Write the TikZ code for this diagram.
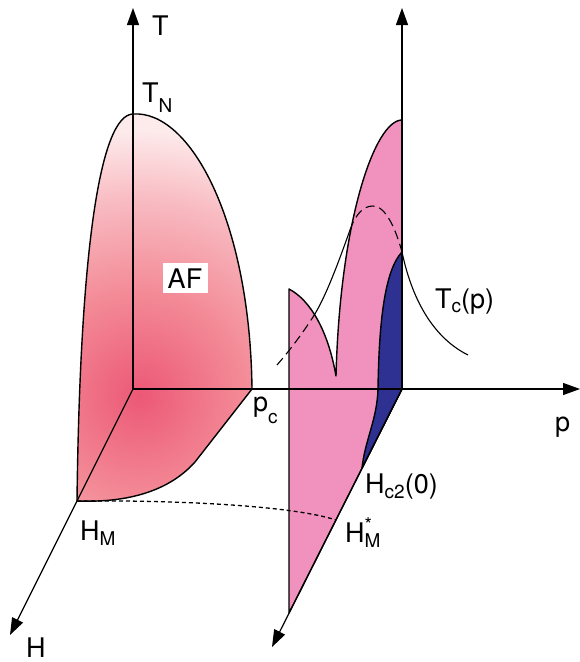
\documentclass[tikz,border=0pt]{standalone}
\usepackage{fontspec}
\setmainfont{TeX Gyre Heros}
\usetikzlibrary{arrows.meta}
\definecolor{afdeep}{RGB}{236,88,118}
\definecolor{afmid}{RGB}{243,138,150}
\definecolor{afsoft}{RGB}{248,185,192}
\definecolor{afpale}{RGB}{253,234,235}
\definecolor{scpink}{RGB}{240,146,189}
\definecolor{scblue}{RGB}{46,49,146}
\pgfdeclareradialshading{afglow}{\pgfpoint{0bp}{0bp}}{color(0bp)=(afdeep); color(8.5bp)=(afmid); color(16bp)=(afsoft); color(22bp)=(afpale); color(50bp)=(afpale)}
\newcommand{\labfont}{\fontsize{27}{30}\selectfont}
\newcommand{\lo}[2][-5pt]{\raisebox{#1}{\fontsize{19}{19}\selectfont #2}}

\begin{document}
\begin{tikzpicture}[
  x=1pt, y=-1pt,
  axis/.style={line width=1.2pt, -{Triangle[length=17pt, width=12pt]}},
  rim/.style={line width=1.4pt, line join=round},
  tcline/.style={line width=1.1pt},
  tchidden/.style={tcline, dash pattern=on 9pt off 5pt},
  hmline/.style={line width=1.3pt, dash pattern=on 4pt off 3pt},
  lab/.style={inner sep=0pt, anchor=base west, font=\labfont}
]
\useasboundingbox (0,0) rectangle (580,662);
% --- axes points ---
\coordinate (O) at (133,389);
\coordinate (Ttip) at (133,8);
\coordinate (Htip) at (10,635);
\coordinate (ptip) at (580,389);
\coordinate (O2) at (402,389);
\coordinate (T2tip) at (402,8);
\coordinate (H2tip) at (272,647);
% --- AF dome ---
\coordinate (TN) at (133,114);
\coordinate (HM) at (77,501);
\coordinate (pc) at (252,389);
\begin{scope}
  \clip (TN) .. controls (100,115) and (80,250) .. (HM)
        .. controls (130,503) and (170,490) .. (195,462) -- (pc)
        .. controls (250,220) and (190,110) .. (TN) -- cycle;
  \shade[shading=afglow] (140,395) circle[radius=300pt];
\end{scope}
\draw[rim] (TN) .. controls (100,115) and (80,250) .. (HM)
      .. controls (130,503) and (170,490) .. (195,462) -- (pc)
      .. controls (250,220) and (190,110) .. (TN) -- cycle;
\node[fill=white, inner sep=0pt, minimum width=45pt, minimum height=30pt,
      text height=20pt, text depth=0pt, font=\labfont] (af) at (185,278) {AF};
% --- superconducting sheet ---
\coordinate (hump) at (289,289);
\coordinate (foot) at (289,613);
\coordinate (dome) at (402,120);
\coordinate (notch) at (336,376);
\draw[rim, fill=scpink] (hump) -- (foot) -- (O2) -- (dome)
  .. controls (375,120) and (340,220) .. (notch)
  .. controls (328,330) and (310,300) .. (hump) -- cycle;
\coordinate (sctop) at (402,252);
\coordinate (scfoot) at (362,468);
\draw[rim, fill=scblue] (sctop) .. controls (385,270) and (379,320) .. (378,389)
  .. controls (377,420) and (365,440) .. (scfoot) -- (O2) -- cycle;
% --- axes ---
\draw[axis] (O) -- (Ttip);
\draw[axis] (O) -- (Htip);
\draw[axis] (O) -- (ptip);
\draw[axis] (O2) -- (T2tip);
\draw[axis] (O2) -- (H2tip);
% --- Tc(p) and H_M line ---
\coordinate (tc0) at (277,365);
\coordinate (tc1) at (313,317);
\coordinate (tc2) at (350,230);
\coordinate (tc3) at (373,206);
\coordinate (tc4) at (468,355);
\draw[tchidden] (tc0) .. controls (290,350) and (302,334) .. (tc1);
\draw[tcline] (tc1) .. controls (326,297) and (340,258) .. (tc2);
\draw[tchidden] (tc2) .. controls (356,213) and (364,206) .. (tc3)
  .. controls (386,206) and (396,230) .. (sctop);
\draw[tcline] (sctop) .. controls (410,290) and (428,335) .. (tc4);
\coordinate (HMs) at (336,520);
\draw[hmline] (HM) .. controls (170,500) and (290,505) .. (HMs);
% --- labels ---
\node[lab] (Tlab) at (152,35) {T};
\node[lab] (Hlab) at (26,657) {H};
\node[lab] (plab) at (555,431) {p};
\node[lab] (TNlab) at (142,102) {T\lo[-10pt]{N}};
\node[lab] (pclab) at (253,411) {p\lo[-12pt]{c}};
\node[lab] (HMlab) at (80,540) {H\lo{M}};
\node[lab] (Tclab) at (435,308) {T\lo[-4pt]{c}(p)};
\node[lab] (Hc2lab) at (365,493) {H\lo{c2}(0)};
\node[lab] (HMslab) at (345,542) {H\rlap{\raisebox{11pt}{\fontsize{19}{19}\selectfont *}}\lo{M}};
\end{tikzpicture}
\end{document}
